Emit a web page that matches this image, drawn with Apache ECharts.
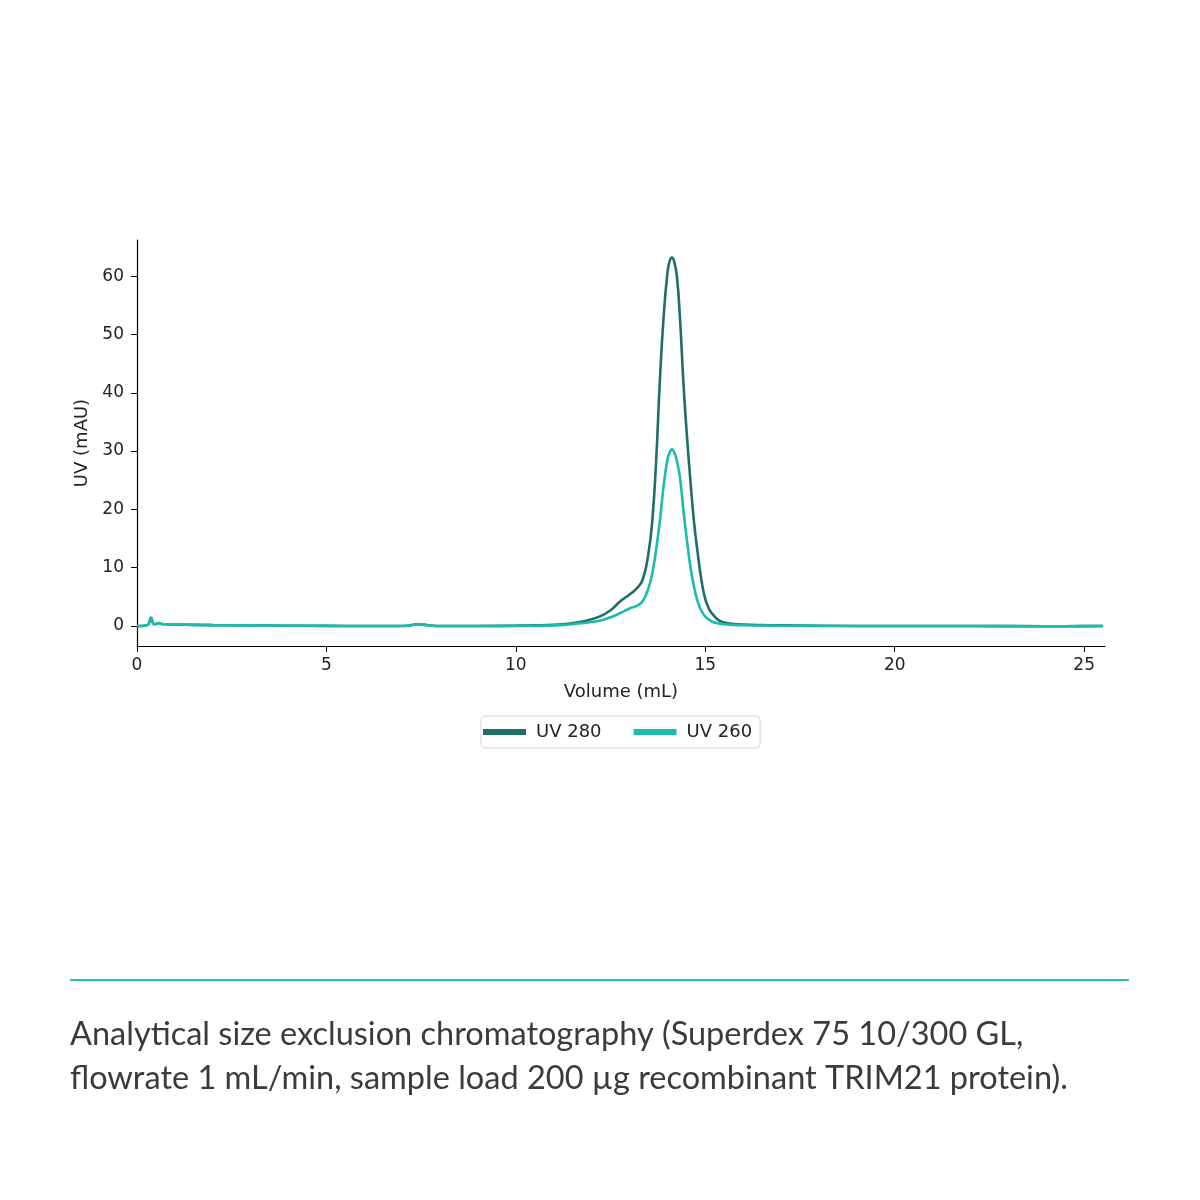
<!DOCTYPE html>
<html>
<head>
<meta charset="utf-8">
<title>Analytical SEC - TRIM21</title>
<script src="https://cdn.jsdelivr.net/npm/echarts@6/dist/echarts.min.js"></script>
<style>
html, body { margin: 0; padding: 0; background: #fff; }
#chart { width: 1200px; height: 1200px; }
</style>
</head>
<body>
<div id="chart"></div>
<script>
// elution volume (mL)
var volume = [0, 0.2, 0.3, 0.37, 0.45, 0.52, 0.58, 0.65, 0.8, 1, 2, 3, 4, 5, 6, 7, 7.2, 7.4, 7.6, 7.8, 8, 9, 10, 10.5, 11, 11.3, 11.6, 11.9, 12.2, 12.5, 12.75, 13.0, 13.2, 13.35, 13.5, 13.6, 13.7, 13.8, 13.9, 14.0, 14.06, 14.12, 14.18, 14.25, 14.33, 14.42, 14.5, 14.6, 14.7, 14.8, 14.9, 15.0, 15.1, 15.2, 15.35, 15.5, 15.7, 16.0, 16.5, 17, 18, 20, 22, 24, 25, 25.5];

var uv280 = [0, 0.05, 0.3, 1.4, 0.3, 0.4, 0.5, 0.35, 0.3, 0.25, 0.15, 0.1, 0.05, 0.02, 0, 0, 0.1, 0.3, 0.2, 0.05, 0, 0, 0.05, 0.1, 0.2, 0.35, 0.6, 1.0, 1.6, 2.7, 4.2, 5.4, 6.5, 8.0, 12.5, 18, 28, 42, 53, 60.5, 62.6, 63.2, 62.5, 60, 53, 42, 34, 25.5, 18, 12.5, 7.8, 4.6, 2.9, 2.0, 1.0, 0.6, 0.4, 0.25, 0.15, 0.1, 0.05, 0, 0, -0.05, -0.02, 0];

var uv260 = [0, 0.05, 0.3, 1.3, 0.3, 0.4, 0.5, 0.35, 0.3, 0.25, 0.15, 0.1, 0.05, 0.02, 0, 0, 0.1, 0.35, 0.2, 0.05, 0, 0, 0.02, 0.05, 0.1, 0.2, 0.4, 0.6, 0.9, 1.5, 2.2, 3.0, 3.5, 4.3, 6.5, 9, 13, 18, 24, 28.5, 29.8, 30.3, 29.8, 28.3, 25.5, 20, 15.5, 10.5, 6.8, 4.2, 2.6, 1.6, 1.1, 0.7, 0.45, 0.3, 0.2, 0.12, 0.08, 0.05, 0.02, 0, 0, -0.05, -0.02, 0];

var xTicks = [0, 5, 10, 15, 20, 25];
var yTicks = [0, 10, 20, 30, 40, 50, 60];

var seriesNames = ['UV 280', 'UV 260'];
var seriesColors = ['#1f6e68', '#1bbcaa'];

var caption = [
	'Analytical size exclusion chromatography (Superdex 75 10/300 GL,',
	'flowrate 1 mL/min, sample load 200 µg recombinant TRIM21 protein).'
];

function pairs(xs, ys){
	var out = [];
	for(var i = 0; i < xs.length; i++){
		out.push([xs[i], ys[i]]);
	}
	return out;
}

var chart = echarts.init(document.getElementById('chart'));

var tickFont = { fontFamily: 'DejaVu Sans', fontSize: 17, color: '#222' };
var nameFont = { fontFamily: 'DejaVu Sans', fontSize: 18, color: '#222' };

var option = {
	animation: false,
	backgroundColor: '#fff',
	grid: { left: 137, right: 95, top: 240, bottom: 554 },
	legend: {
		left: 481,
		top: 716,
		data: seriesNames,
		icon: 'rect',
		itemWidth: 43,
		itemHeight: 6,
		itemGap: 32,
		padding: [7, 8, 7, 2],
		borderColor: '#d6d6d6',
		borderWidth: 1,
		borderRadius: 4,
		textStyle: { fontFamily: 'DejaVu Sans', fontSize: 18, color: '#222', padding: [0, 0, 0, 5] }
	},
	xAxis: {
		type: 'value',
		min: 0,
		max: 25.55,
		name: 'Volume (mL)',
		nameLocation: 'middle',
		nameGap: 37,
		nameTextStyle: nameFont,
		axisLine: { show: true, onZero: false, lineStyle: { color: '#000', width: 1.2 } },
		axisTick: { show: true, length: 6, customValues: xTicks, lineStyle: { color: '#000' } },
		axisLabel: Object.assign({ margin: 11, customValues: xTicks }, tickFont),
		splitLine: { show: false }
	},
	yAxis: {
		type: 'value',
		min: -3.43,
		max: 66.2,
		name: 'UV (mAU)',
		nameLocation: 'middle',
		nameGap: 44,
		nameTextStyle: nameFont,
		axisLine: { show: true, onZero: false, lineStyle: { color: '#000', width: 1.2 } },
		axisTick: { show: true, length: 6, customValues: yTicks, lineStyle: { color: '#000' } },
		axisLabel: Object.assign({ margin: 13, customValues: yTicks }, tickFont),
		splitLine: { show: false }
	},
	series: [
		{
			name: seriesNames[0],
			type: 'line',
			data: pairs(volume, uv280),
			showSymbol: false,
			smooth: 0.5,
			color: seriesColors[0],
			lineStyle: { width: 2.6 }
		},
		{
			name: seriesNames[1],
			type: 'line',
			data: pairs(volume, uv260),
			showSymbol: false,
			smooth: 0.5,
			color: seriesColors[1],
			lineStyle: { width: 2.6 }
		}
	],
	graphic: [
		{
			type: 'line',
			shape: { x1: 70, y1: 980, x2: 1129, y2: 980 },
			style: { stroke: '#2cc2b2', lineWidth: 2 }
		},
		{
			type: 'text',
			left: 70,
			top: 1013,
			style: {
				text: caption.join('\n'),
				fontFamily: 'Lato',
				fontSize: 32.5,
				lineHeight: 44,
				fill: '#3b3b3b'
			}
		}
	]
};

chart.setOption(option);
</script>
</body>
</html>
